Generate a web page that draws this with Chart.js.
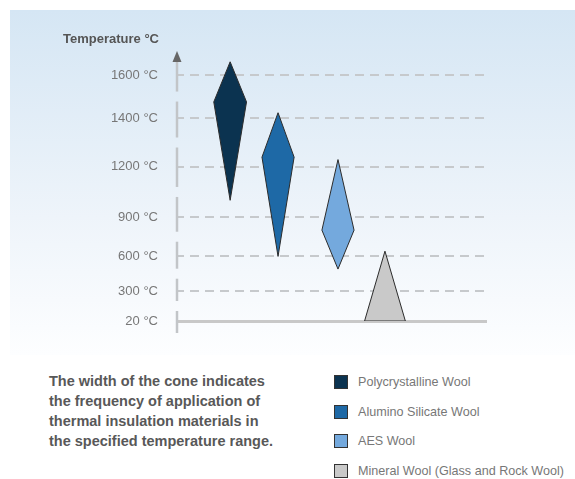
<!DOCTYPE html>
<html>
<head>
<meta charset="utf-8">
<script src="https://cdn.jsdelivr.net/npm/chart.js@4/dist/chart.umd.min.js"></script>
<style>
html,body{margin:0;padding:0;background:#fff;width:575px;height:479px;overflow:hidden;font-family:'Liberation Sans',Arial,Helvetica,sans-serif;}
#bg{position:absolute;left:10px;top:10px;width:565px;height:345px;background:linear-gradient(#d5e6f4 0%,#eef4fa 60%,#fdfeff 100%);}
#wrap{position:absolute;left:0;top:0;width:575px;height:360px;}
#ytitle{position:absolute;left:63px;top:31px;font-weight:bold;font-size:13px;line-height:16px;color:#555;white-space:nowrap;}
#note{position:absolute;left:49px;top:371px;font-weight:bold;font-size:14.5px;line-height:20px;color:#585858;white-space:nowrap;}
#legend{position:absolute;left:334px;top:367px;}
.row{display:flex;align-items:center;height:29.7px;}
.sw{width:12px;height:12px;border:1px solid #333;margin-right:10px;}
.lb{font-size:12.6px;color:#777;white-space:nowrap;}
</style>
</head>
<body>
<div id="bg"></div>
<div id="wrap"><canvas id="c" width="575" height="360"></canvas></div>
<div id="ytitle">Temperature °C</div>
<div id="note">The width of the cone indicates<br>the frequency of application of<br>thermal insulation materials in<br>the specified temperature range.</div>
<div id="legend"></div>
<script>
// ---- data ----
const materials = ['Polycrystalline Wool', 'Alumino Silicate Wool', 'AES Wool', 'Mineral Wool (Glass and Rock Wool)'];
const maxTemp   = [1660, 1425, 1230, 640];   // cone tip (°C)
const peakTemp  = [1475, 1240, 800, 20];     // widest point (°C)
const minTemp   = [1000, 600, 490, 20];      // cone bottom (°C)
const centerX   = [1.72, 3.27, 5.21, 6.73];  // horizontal position (axis units)
const halfWidth = [0.53, 0.52, 0.52, 0.66];  // frequency of application (half width)
const tickTemps = [20, 300, 600, 900, 1200, 1400, 1600];
const tickLabels = ['20 °C', '300 °C', '600 °C', '900 °C', '1200 °C', '1400 °C', '1600 °C'];
const colors = ['#0b3350', '#1e69a6', '#74a9dd', '#c9c9c9'];

// ---- non-uniform temperature scale (layout of the original axis) ----
const scaleBreaks = [20, 300, 600, 900, 1200, 1400, 1600, 1700];
const scaleFracs  = [0, 0.112, 0.241, 0.388, 0.575, 0.757, 0.918, 1];
function toFrac(v) {
  const b = scaleBreaks, f = scaleFracs;
  if (v <= b[0]) return f[0] + (v - b[0]) / (b[1] - b[0]) * (f[1] - f[0]);
  for (let i = 1; i < b.length; i++) {
    if (v <= b[i] || i === b.length - 1) {
      return f[i-1] + (v - b[i-1]) / (b[i] - b[i-1]) * (f[i] - f[i-1]);
    }
  }
}
function fromFrac(t) {
  const b = scaleBreaks, f = scaleFracs;
  for (let i = 1; i < f.length; i++) {
    if (t <= f[i] || i === f.length - 1) {
      return b[i-1] + (t - f[i-1]) / (f[i] - f[i-1]) * (b[i] - b[i-1]);
    }
  }
}
class PiecewiseScale extends Chart.LinearScale {
  getPixelForValue(v) { return this.getPixelForDecimal(toFrac(v)); }
  getValueForPixel(p) { return fromFrac(this.getDecimalForPixel(p)); }
}
PiecewiseScale.id = 'piecewise';
PiecewiseScale.defaults = Chart.LinearScale.defaults;
Chart.register(PiecewiseScale);

// ---- broken vertical axis with arrow ----
const brokenAxis = {
  id: 'brokenAxis',
  afterDraw(chart) {
    const s = chart.scales.y, ctx = chart.ctx, x = chart.chartArea.left;
    const px = s.ticks.map(t => s.getPixelForValue(t.value));
    ctx.save();
    ctx.strokeStyle = '#c2c5c8';
    ctx.lineWidth = 2.5;
    px.forEach((p, i) => {
      const below = i === 0 ? p + 12 : (p + px[i-1]) / 2 - 5;
      const above = i === px.length - 1 ? p - 13 : (p + px[i+1]) / 2 + 5;
      ctx.beginPath(); ctx.moveTo(x, above); ctx.lineTo(x, below); ctx.stroke();
    });
    const top = px[px.length - 1] - 13;
    ctx.fillStyle = '#666';
    ctx.beginPath();
    ctx.moveTo(x - 4.5, top); ctx.lineTo(x + 4.5, top); ctx.lineTo(x, top - 11);
    ctx.closePath(); ctx.fill();
    ctx.restore();
  }
};

const datasets = materials.map((m, i) => ({
  label: m,
  data: [
    {x: centerX[i], y: maxTemp[i]},
    {x: centerX[i] + halfWidth[i], y: peakTemp[i]},
    {x: centerX[i], y: minTemp[i]},
    {x: centerX[i] - halfWidth[i], y: peakTemp[i]},
    {x: centerX[i], y: maxTemp[i]}
  ],
  backgroundColor: colors[i],
  borderColor: '#2b2b2b',
  borderWidth: 1,
  borderJoinStyle: 'miter',
  pointRadius: 0,
  pointHoverRadius: 0,
  tension: 0,
  fill: 'shape'
}));

new Chart(document.getElementById('c'), {
  type: 'line',
  data: { datasets },
  options: {
    responsive: false,
    animation: false,
    events: [],
    layout: { autoPadding: false, padding: { left: 0, top: 53, right: 89, bottom: 39 } },
    plugins: { legend: { display: false }, tooltip: { enabled: false }, title: { display: false } },
    scales: {
      x: {
        type: 'linear', min: 0, max: 10,
        ticks: { display: false },
        grid: { display: false },
        border: { display: true, color: '#c8c8c8', width: 3 },
        afterFit: s => { s.height = 0; }
      },
      y: {
        type: 'piecewise', min: 20, max: 1700,
        afterBuildTicks: s => { s.ticks = tickTemps.map(v => ({ value: v })); },
        afterFit: s => { s.width = 177; },
        ticks: {
          padding: 19,
          color: '#777',
          font: { family: "'Liberation Sans', Arial, Helvetica, sans-serif", size: 13 },
          callback: (v) => tickLabels[tickTemps.indexOf(v)]
        },
        grid: {
          drawTicks: false,
          lineWidth: 2,
          color: ctx => (ctx.tick && ctx.tick.value === tickTemps[0]) ? 'rgba(0,0,0,0)' : '#c6c9cc'
        },
        border: { display: false, dash: [9, 6], dashOffset: 2 }
      }
    }
  },
  plugins: [brokenAxis]
});

// ---- HTML legend ----
const lg = document.getElementById('legend');
materials.forEach((m, i) => {
  const r = document.createElement('div'); r.className = 'row';
  const sw = document.createElement('div'); sw.className = 'sw'; sw.style.background = colors[i];
  const lb = document.createElement('div'); lb.className = 'lb'; lb.textContent = m;
  r.appendChild(sw); r.appendChild(lb); lg.appendChild(r);
});
</script>
</body>
</html>
